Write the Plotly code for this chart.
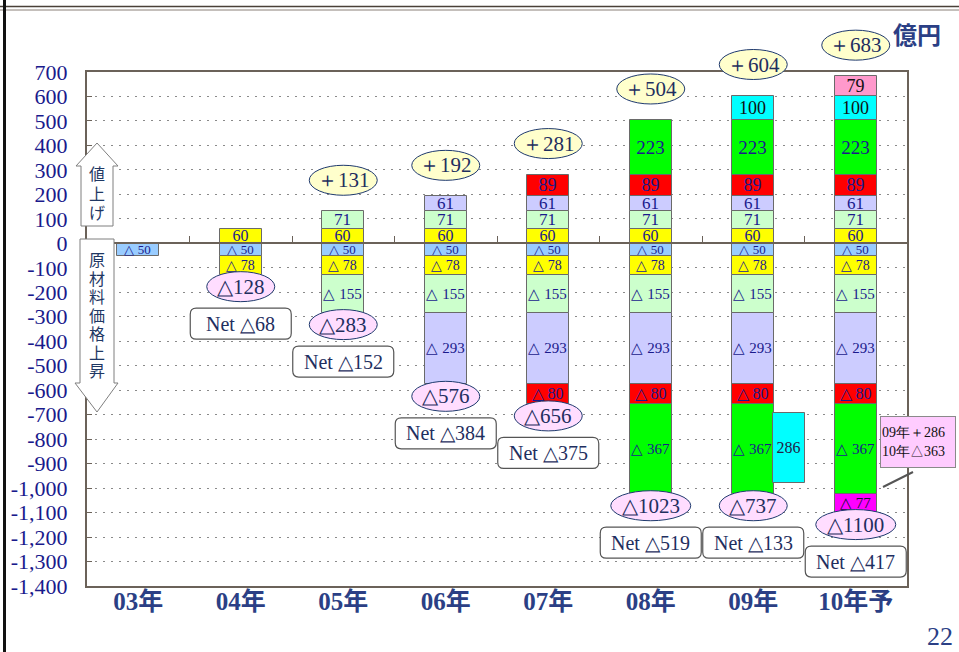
import plotly.graph_objects as go

# ---------------- data ----------------
years = ['03年', '04年', '05年', '06年', '07年', '08年', '09年', '10年予']

# price-increase (値上げ) segments, stacked upward from zero
pos_yellow = [None, 60, 60, 60, 60, 60, 60, 60]
pos_lgreen = [None, None, 71, 71, 71, 71, 71, 71]
pos_lav = [None, None, None, 61, 61, 61, 61, 61]
pos_red = [None, None, None, None, 89, 89, 89, 89]
pos_green = [None, None, None, None, None, 223, 223, 223]
pos_cyan = [None, None, None, None, None, None, 100, 100]
pos_pink = [None, None, None, None, None, None, None, 79]

# raw material price increase segments, stacked downward from zero
neg_lblue = [-50, -50, -50, -50, -50, -50, -50, -50]
neg_yellow = [None, -78, -78, -78, -78, -78, -78, -78]
neg_lgreen = [None, None, -155, -155, -155, -155, -155, -155]
neg_lav = [None, None, None, -293, -293, -293, -293, -293]
neg_red = [None, None, None, None, -80, -80, -80, -80]
neg_green = [None, None, None, None, None, -367, -367, -367]
neg_mag = [None, None, None, None, None, None, None, -77]

plus_totals = [None, None, 131, 192, 281, 504, 604, 683]
minus_totals = [None, 128, 283, 576, 656, 1023, 737, 1100]
net_totals = [None, 68, 152, 384, 375, 519, 133, 417]

offset09_value = 286
offset09_base = -980

y_ticks = list(range(-1400, 701, 100))
y_ticktext = [f"{v:,}" for v in y_ticks]
Y_MIN, Y_MAX = -1400, 700

# ---------------- styling ----------------
NAVY = '#1a1a8c'
DARK = '#1f2f5f'
SERIF = 'Liberation Serif'
CJK = 'Noto Sans CJK JP'
BAR_W = 0.41
xs = list(range(len(years)))
NX = len(years)

fig = go.Figure()


def fmt(v, neg):
    if v is None:
        return ''
    return f"△ {abs(v)}" if neg else f"{v}"


def add_bar(vals, color, neg, size, tcolor=NAVY):
    fig.add_trace(go.Bar(
        x=xs, y=vals, width=BAR_W,
        marker=dict(color=color, line=dict(color='#6a6a6a', width=1)),
        text=[fmt(v, neg) for v in vals],
        textposition='inside', insidetextanchor='middle',
        textangle=0, constraintext='none',
        textfont=dict(family=SERIF, size=size, color=tcolor),
        hoverinfo='skip', showlegend=False))


# negative stack (order: nearest zero first)
add_bar(neg_lblue, '#99CCFF', True, 13)
add_bar(neg_yellow, '#FFFF00', True, 14)
add_bar(neg_lgreen, '#CCFFCC', True, 15)
add_bar(neg_lav, '#CCCCFF', True, 15)
add_bar(neg_red, '#FF0000', True, 16)
add_bar(neg_green, '#00FF00', True, 15)
add_bar(neg_mag, '#FF00FF', True, 15, '#111133')
# positive stack
add_bar(pos_yellow, '#FFFF00', False, 16)
add_bar(pos_lgreen, '#CCFFCC', False, 17)
add_bar(pos_lav, '#CCCCFF', False, 17)
add_bar(pos_red, '#FF0000', False, 18)
add_bar(pos_green, '#00FF00', False, 19)
add_bar(pos_cyan, '#00FFFF', False, 18, '#111111')
add_bar(pos_pink, '#FF99CC', False, 18, '#111111')

# 09 offset bar (separate overlay subplot so it is not stacked)
fig.add_trace(go.Bar(
    x=[6], y=[offset09_value], base=[offset09_base], width=0.31, offset=0.19,
    marker=dict(color='#00FFFF', line=dict(color='#6a6a6a', width=1)),
    text=[str(offset09_value)], textposition='inside', insidetextanchor='middle',
    textangle=0, constraintext='none',
    textfont=dict(family=SERIF, size=16, color='#222244'),
    xaxis='x2', yaxis='y2', hoverinfo='skip', showlegend=False))

# ---------------- ellipses & net boxes ----------------
shapes = []
annotations = []

pos_lists = [pos_yellow, pos_lgreen, pos_lav, pos_red, pos_green, pos_cyan, pos_pink]
neg_lists = [neg_lblue, neg_yellow, neg_lgreen, neg_lav, neg_red, neg_green, neg_mag]


def xpaper(i):
    return (i + 0.5) / NX


def ypaper(v):
    return (v - Y_MIN) / (Y_MAX - Y_MIN)


def rrect(w, h, cy, r=6):
    x0, x1 = -w / 2, w / 2
    y0, y1 = cy - h / 2, cy + h / 2
    return (f"M {x0+r},{y0} L {x1-r},{y0} Q {x1},{y0} {x1},{y0+r} "
            f"L {x1},{y1-r} Q {x1},{y1} {x1-r},{y1} L {x0+r},{y1} "
            f"Q {x0},{y1} {x0},{y1-r} L {x0},{y0+r} Q {x0},{y0} {x0+r},{y0} Z")


for i in xs:
    top = sum(l[i] for l in pos_lists if l[i] is not None)
    bottom = sum(l[i] for l in neg_lists if l[i] is not None)
    if plus_totals[i] is not None:
        w = 34 if plus_totals[i] < 1000 else 40
        shapes.append(dict(type='circle', xref='paper', yref='paper', xsizemode='pixel', ysizemode='pixel',
                           xanchor=xpaper(i), yanchor=ypaper(top), x0=-w, x1=w, y0=31 - 15, y1=31 + 15,
                           fillcolor='#FFFFCC', line=dict(color='#1f3a6e', width=1)))
        annotations.append(dict(x=i, y=top, yshift=31, xref='x', yref='y', showarrow=False,
                                xanchor='center', yanchor='middle',
                                text=f"＋{plus_totals[i]}",
                                font=dict(family=SERIF, size=21, color=DARK)))
    if minus_totals[i] is not None:
        w = 34 if minus_totals[i] < 1000 else 40
        shapes.append(dict(type='circle', xref='paper', yref='paper', xsizemode='pixel', ysizemode='pixel',
                           xanchor=xpaper(i), yanchor=ypaper(bottom), x0=-w, x1=w, y0=-12 - 15, y1=-12 + 15,
                           fillcolor='#FFDDFF', line=dict(color='#1f3a6e', width=1)))
        annotations.append(dict(x=i, y=bottom, yshift=-12, xref='x', yref='y', showarrow=False,
                                xanchor='center', yanchor='middle',
                                text=f"△{minus_totals[i]}",
                                font=dict(family=SERIF, size=21, color=DARK)))
    if net_totals[i] is not None:
        shapes.append(dict(type='path', xref='paper', yref='paper', xsizemode='pixel', ysizemode='pixel',
                           xanchor=xpaper(i), yanchor=ypaper(bottom), path=rrect(101, 31, -49),
                           fillcolor='white', line=dict(color='#555555', width=1.2)))
        annotations.append(dict(x=i, y=bottom, yshift=-49, xref='x', yref='y', showarrow=False,
                                xanchor='center', yanchor='middle',
                                text=f"Net △{net_totals[i]}",
                                font=dict(family=SERIF, size=20, color=DARK)))

# ---------------- decorations in page pixels ----------------
L, T, R, B = 87, 72, 907, 586


def px(x):
    return (x - L) / (R - L)


def py(y):
    return (B - y) / (B - T)


def ppath(pts):
    return 'M ' + ' L '.join(f"{px(a)},{py(b)}" for a, b in pts) + ' Z'


def page_text(x, y, text, font, **kw):
    d = dict(x=px(x), y=py(y), xref='paper', yref='paper', showarrow=False,
             xanchor='center', yanchor='middle', text=text, font=font)
    d.update(kw)
    annotations.append(d)


up_arrow = [(97, 143), (118, 166), (113, 166), (113, 226), (81, 226), (81, 166), (76, 166)]
down_arrow = [(80, 239), (114, 239), (114, 383), (118, 383), (97, 412), (75, 383), (80, 383)]
for pts in (up_arrow, down_arrow):
    shapes.append(dict(type='path', xref='paper', yref='paper', path=ppath(pts),
                       fillcolor='white', line=dict(color='#7f7f7f', width=1), layer='above'))

arrow_font = dict(family=CJK, size=16, color='#1f3864')
for k, ch in enumerate('値上げ'):
    page_text(97, 173 + 19.5 * k, ch, arrow_font)
for k, ch in enumerate('原材料価格上昇'):
    page_text(97, 259 + 18.5 * k, ch, arrow_font)

# callout box
page_text(918.5, 441.5, '09年＋286<br>10年△363',
          dict(family=SERIF, size=14, color='#111111'),
          align='left', width=72, height=48, bgcolor='#FFCCFF', bordercolor='#8a8a8a',
          borderwidth=1, borderpad=1)
shapes.append(dict(type='line', xref='paper', yref='paper', x0=px(883), y0=py(487),
                   x1=px(913), y1=py(472), line=dict(color='#555555', width=2)))

# unit label and page number
page_text(917, 33, '<b>億円</b>', dict(family=CJK, size=24, color='#2b3f85'))
page_text(940, 636, '22', dict(family=SERIF, size=26, color='#2b3f85'))

# page frame lines
shapes.append(dict(type='line', xref='paper', yref='paper', x0=px(0), x1=px(959),
                   y0=py(6.5), y1=py(6.5), line=dict(color='#4a4038', width=1.5)))
shapes.append(dict(type='line', xref='paper', yref='paper', x0=px(0), x1=px(959),
                   y0=py(10), y1=py(10), line=dict(color='#8a8078', width=1)))
shapes.append(dict(type='line', xref='paper', yref='paper', x0=px(4.5), x1=px(4.5),
                   y0=py(0), y1=py(652), line=dict(color='#111111', width=3)))

# ---------------- layout ----------------
fig.update_layout(
    width=959, height=652, autosize=False,
    margin=dict(l=L, r=959 - R, t=T, b=652 - B, pad=0, autoexpand=False),
    paper_bgcolor='white', plot_bgcolor='white',
    barmode='relative', bargap=0,
    shapes=shapes, annotations=annotations,
    xaxis=dict(range=[-0.5, 7.5], tickvals=xs, ticktext=[f"<b>{y}</b>" for y in years],
               tickfont=dict(family=SERIF + ', ' + CJK, size=25, color='#2b3f85'),
               ticklabelstandoff=-8, automargin=False,
               showline=True, mirror=True, linecolor='#6b6259', linewidth=1.5,
               showgrid=False, zeroline=False, ticks=''),
    yaxis=dict(range=[Y_MIN, Y_MAX], tickvals=y_ticks, ticktext=y_ticktext,
               tickfont=dict(family=SERIF, size=22, color=NAVY),
               ticklabelstandoff=13, automargin=False,
               showline=True, mirror=True, linecolor='#6b6259', linewidth=2,
               ticks='inside', ticklen=5, tickcolor='#6b6259',
               showgrid=True, gridcolor='#8a8a8a', griddash='2px,6px', gridwidth=1,
               zeroline=False),
    xaxis2=dict(range=[-0.5, 7.5], overlaying='x', anchor='free', position=(0 - Y_MIN) / (Y_MAX - Y_MIN),
                side='top', showline=True, linecolor='#6b6259', linewidth=1.5,
                ticks='outside', ticklen=7, tickcolor='#6b6259', automargin=False,
                tickvals=[i + 0.5 for i in xs[:-1]], showticklabels=False,
                showgrid=False, zeroline=False),
    yaxis2=dict(range=[Y_MIN, Y_MAX], overlaying='y', anchor='x2', visible=False, automargin=False),
)

fig.write_html('out.html', config={'displayModeBar': False},
               post_script="document.body.style.margin='0';document.body.style.overflow='hidden';")
